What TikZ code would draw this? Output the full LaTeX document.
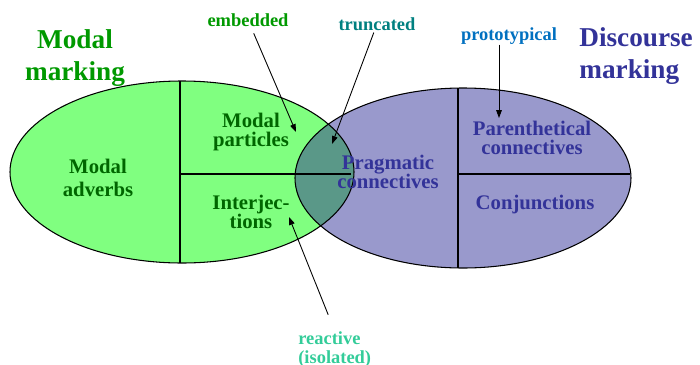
\documentclass[tikz,border=0pt]{standalone}
\usepackage{fontspec}
\setmainfont{Liberation Serif}
\usetikzlibrary{arrows.meta}
\definecolor{modalfill}{HTML}{80FF80}
\definecolor{discfill}{HTML}{9999CC}
\definecolor{bothfill}{HTML}{5A9888}
\definecolor{modalgreen}{HTML}{009900}
\definecolor{modaldark}{HTML}{006600}
\definecolor{discblue}{HTML}{333399}
\definecolor{truncteal}{HTML}{008080}
\definecolor{protoblue}{HTML}{0070C0}
\definecolor{reactaqua}{HTML}{33CC99}
\tikzset{
	zone/.style={draw=black, line width=0.6pt},
	title/.style={font=\fontsize{15.5}{17}\selectfont\bfseries, inner sep=0pt},
	item/.style={font=\fontsize{11.8}{9.7}\selectfont\bfseries, align=center, inner sep=0pt},
	tag/.style={font=\fontsize{10.5}{10.8}\selectfont\bfseries, inner sep=0pt},
	pointer/.style={-{Triangle[length=4.5pt,width=3.2pt]}, line width=0.5pt},
}

\begin{document}
\begin{tikzpicture}[x=0.02cm,y=-0.02cm]
	\useasboundingbox (0,0) rectangle (700,365);
	%%%%%%%%%% elipses %%%%%%%%%%%%%
	\fill[modalfill] (182,172) ellipse (172 and 91);
	\fill[discfill] (463,178) ellipse (168 and 90);
	\begin{scope}
		\clip (182,172) ellipse (172 and 91);
		\fill[bothfill] (463,178) ellipse (168 and 90);
	\end{scope}
	\draw[zone] (182,172) ellipse (172 and 91);
	\draw[zone] (463,178) ellipse (168 and 90);
	
	%%%%%%%%%% divisoes %%%%%%%%%%%%%
	\draw[zone] (180,81) -- (180,263);
	\draw[zone] (180,174) -- (351,174);
	\draw[zone] (458,88) -- (458,268);
	\draw[zone] (458,174) -- (630,174);
	
	%%%%%%%%%% titulos %%%%%%%%%%%%%%
	\node[title, modalgreen, align=center] (modaltitle) at (75,58) {Modal\\[1pt]marking};
	\node[title, discblue, align=left, anchor=west] (disctitle) at (579,56) {Discourse\\[1pt]marking};
	
	%%%%%%%%%% categorias %%%%%%%%%%%
	\node[item, modaldark] (adverbs) at (98,178) {Modal\\[3.3pt]adverbs};
	\node[item, modaldark] (particles) at (251,132) {Modal\\[0.9pt]particles};
	\node[item, modaldark] (interj) at (251,212) {Interjec-\\[-1.2pt]tions};
	\node[item, discblue] (pragmatic) at (388,172) {Pragmatic\\[-1.2pt]connectives};
	\node[item, discblue] (parenth) at (532,138) {Parenthetical\\[0.9pt]connectives};
	\node[item, discblue] (conj) at (535,205) {Conjunctions};
	
	%%%%%%%%%% rotulos %%%%%%%%%%%%%%
	\node[tag, modalgreen] (embedded) at (248,20) {embedded};
	\node[tag, truncteal] (truncated) at (377,24) {truncated};
	\node[tag, protoblue] (prototypical) at (509,36) {prototypical};
	\node[tag, reactaqua, align=left, anchor=north west] (reactive) at (298,331) {reactive\\(isolated)};
	
	%%%%%%%%%% setas %%%%%%%%%%%%%%%%
	\coordinate (embtip) at (296,132);
	\coordinate (trunctip) at (332,144);
	\coordinate (prototip) at (499,118);
	\coordinate (reacttip) at (289,217);
	\draw[pointer, shorten <=4pt] (embedded) -- (embtip);
	\draw[pointer, shorten <=1pt] (truncated) -- (trunctip);
	\draw[pointer] (prototypical.south -| prototip) -- (prototip);
	\draw[pointer, shorten <=10pt] (reactive.north) -- (reacttip);
\end{tikzpicture}
\end{document}
